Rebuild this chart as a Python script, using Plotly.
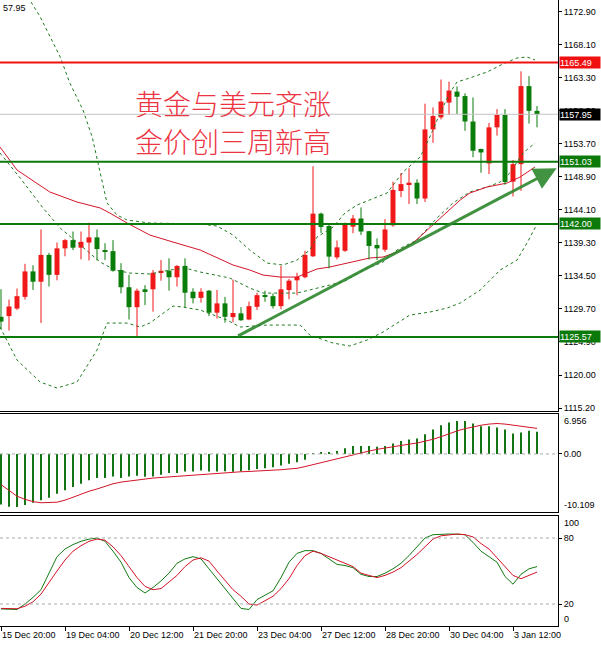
# XAUUSD H4 - gold and dollar both up
import numpy as np
import plotly.graph_objects as go
from plotly.subplots import make_subplots

# candles
opens = [1128.5, 1128.6, 1129.7, 1131.4, 1135.1, 1133.6, 1137.5, 1134.6, 1138.45, 1139.65,
         1138.55, 1139.3, 1140.05, 1138.2, 1138.05, 1135.3, 1132.8, 1129.9, 1132.5, 1132.5,
         1134.95, 1135.2, 1134.25, 1135.9, 1132.15, 1131.25, 1132.3, 1129.1, 1130.45, 1128.45,
         1129.0, 1128.1, 1129.95, 1131.65, 1131.5, 1130.05, 1132.4, 1133.8, 1134.25, 1137.3,
         1143.5, 1141.7, 1137.15, 1138.1, 1141.6, 1142.8, 1140.95, 1138.95, 1138.25, 1141.8,
         1146.8, 1147.75, 1148.0, 1145.7, 1155.75, 1157.5, 1159.65, 1161.25, 1160.6, 1156.9,
         1152.9, 1150.8, 1156.05, 1157.85, 1148.15, 1150.7, 1162.05, 1158.45]
highs = [1132.5, 1131.0, 1132.6, 1136.2, 1136.0, 1141.2, 1137.8, 1139.3, 1139.8, 1140.9,
         1140.9, 1142.2, 1141.2, 1139.2, 1139.65, 1136.3, 1134.6, 1132.6, 1133.1, 1135.3,
         1136.75, 1137.0, 1136.0, 1137.0, 1132.65, 1132.65, 1132.4, 1132.4, 1131.4, 1133.9,
         1129.9, 1130.7, 1132.0, 1132.3, 1131.9, 1135.9, 1134.0, 1134.9, 1138.1, 1150.4,
         1143.65, 1141.85, 1139.6, 1142.2, 1143.3, 1144.4, 1141.0, 1139.9, 1142.7, 1148.15,
         1149.4, 1150.1, 1148.5, 1159.5, 1158.95, 1163.0, 1162.7, 1162.0, 1161.0, 1160.4,
         1152.95, 1156.7, 1158.7, 1158.7, 1151.3, 1164.2, 1163.5, 1159.15]
lows = [1126.7, 1126.5, 1129.5, 1131.0, 1132.4, 1127.6, 1132.9, 1133.8, 1137.3, 1138.2,
        1136.85, 1136.7, 1136.7, 1136.75, 1135.05, 1131.9, 1128.1, 1125.6, 1130.2, 1129.25,
        1133.75, 1132.3, 1132.9, 1129.9, 1130.45, 1130.55, 1128.6, 1128.25, 1127.65, 1127.7,
        1127.9, 1128.0, 1129.5, 1130.7, 1129.7, 1129.6, 1131.05, 1131.65, 1134.1, 1137.2,
        1140.7, 1135.55, 1136.85, 1137.95, 1140.65, 1140.4, 1136.85, 1136.75, 1137.95, 1141.6,
        1145.9, 1144.9, 1144.9, 1145.2, 1153.8, 1157.2, 1157.85, 1158.0, 1155.55, 1151.7,
        1149.45, 1149.25, 1154.85, 1147.7, 1146.0, 1146.8, 1156.6, 1156.05]
closes = [1127.8, 1130.0, 1131.5, 1135.1, 1133.6, 1137.5, 1134.6, 1138.45, 1139.65, 1138.55,
          1139.4, 1140.05, 1138.35, 1138.05, 1135.2, 1132.8, 1129.9, 1132.3, 1132.25, 1134.9,
          1135.2, 1134.25, 1135.9, 1132.0, 1131.2, 1132.15, 1129.1, 1130.45, 1128.5, 1129.05,
          1128.0, 1130.05, 1131.65, 1131.45, 1130.05, 1132.5, 1133.75, 1134.3, 1137.5, 1143.5,
          1141.55, 1137.25, 1138.6, 1142.0, 1142.8, 1140.9, 1138.8, 1138.45, 1141.2, 1146.95,
          1147.8, 1148.0, 1145.7, 1155.75, 1157.7, 1159.8, 1161.4, 1160.5, 1156.9, 1152.65,
          1152.4, 1156.05, 1157.85, 1148.1, 1150.7, 1162.05, 1158.45, 1157.95]

x_ticklabels = ["15 Dec 20:00", "19 Dec 04:00", "20 Dec 12:00", "21 Dec 20:00", "23 Dec 04:00",
                "27 Dec 12:00", "28 Dec 20:00", "30 Dec 04:00", "3 Jan 12:00"]
price_ticks = [1172.90, 1168.10, 1163.30, 1158.50, 1153.70, 1148.90, 1144.10,
               1139.30, 1134.50, 1129.70, 1124.90, 1120.00, 1115.20]

# bollinger bands + MA, sampled along the curves (bar index, price)
bb_up_x = [2.6, 3.6, 4.9, 6.1, 7.4, 8.6, 10.25, 11.4, 12.1, 13.25, 14.5, 15.75, 18.6, 24.9, 27.0,
           29.0, 31.1, 33.25, 35.25, 37.0, 38.6, 39.5, 41.5, 43.0, 44.5, 46.1, 48.25, 50.25, 52.4,
           53.6, 54.9, 56.1, 57.0, 58.6, 60.75, 62.75, 64.5, 65.75, 66.75]
bb_up_y = [1177.48, 1174.57, 1172.1, 1169.19, 1166.28, 1162.5, 1158.57, 1154.65, 1150.86, 1145.05,
           1143.3, 1142.57, 1142.14, 1141.99, 1141.7, 1140.39, 1138.21, 1136.32, 1136.03, 1136.75,
           1138.21, 1140.1, 1141.55, 1143.59, 1144.75, 1145.48, 1146.5, 1149.55, 1151.74, 1154.65,
           1158.14, 1161.05, 1162.65, 1163.23, 1164.1, 1165.26, 1166.14, 1166.28, 1165.85]
bb_mid_x = [-0.125, 2.4, 5.25, 7.4, 9.9, 12.4, 14.25, 16.1, 18.6, 21.1, 23.0, 24.9, 26.75, 28.6,
            31.1, 32.75, 37.0, 39.25, 41.1, 43.0, 45.25, 47.75, 49.5, 52.0, 54.5, 56.5, 58.6,
            60.75, 62.4, 63.6, 65.25, 66.75]
bb_mid_y = [1152.32, 1148.68, 1144.32, 1141.41, 1138.94, 1136.46, 1135.3, 1134.86, 1134.72, 1135.3,
            1135.59, 1135.01, 1134.57, 1134.14, 1132.68, 1131.95, 1131.95, 1132.54, 1133.12, 1133.7,
            1135.3, 1136.46, 1138.21, 1139.66, 1142.86, 1145.05, 1146.65, 1147.37, 1148.1, 1149.41,
            1152.32, 1153.77]
bb_low_x = [-0.125, 2.0, 4.9, 7.0, 9.5, 12.0, 13.25, 15.75, 17.4, 18.6, 21.5, 22.75, 24.9, 28.25,
            29.9, 33.25, 37.4, 38.6, 41.5, 43.6, 45.75, 47.75, 51.1, 53.6, 55.75, 57.4, 59.9,
            62.4, 64.5, 65.75, 67.0]
bb_low_y = [1127.01, 1122.21, 1119.01, 1118.14, 1119.01, 1123.66, 1127.59, 1127.59, 1127.01, 1127.59,
            1130.06, 1129.92, 1129.48, 1128.03, 1127.01, 1127.3, 1127.3, 1125.85, 1124.68, 1124.25,
            1125.12, 1126.28, 1128.75, 1129.19, 1129.77, 1130.5, 1132.39, 1135.3, 1136.75, 1139.23,
            1141.99]
ma_x = [-0.125, 2.0, 6.1, 9.5, 12.4, 13.6, 15.75, 18.6, 21.5, 24.9, 29.0, 31.1, 32.75, 34.9, 37.0,
        39.5, 41.1, 42.75, 44.5, 46.1, 47.75, 49.5, 51.5, 53.6, 55.75, 57.4, 58.6, 60.75, 63.25,
        64.9, 66.75]
ma_y = [1153.19, 1149.85, 1146.65, 1145.19, 1144.32, 1143.59, 1142.14, 1140.39, 1139.37, 1138.21,
        1136.03, 1135.3, 1134.57, 1134.28, 1134.28, 1135.45, 1135.74, 1136.17, 1136.61, 1137.05,
        1137.19, 1137.92, 1139.23, 1141.41, 1143.74, 1145.48, 1146.5, 1147.37, 1147.95, 1148.83,
        1150.28]

# MACD
macd_hist = [-8.79, -9.2, -9.25, -8.91, -8.5, -8.05, -7.64, -6.95, -6.32, -5.75,
             -5.17, -4.6, -4.2, -4.2, -3.91, -4.2, -3.91, -3.79, -3.95, -3.91,
             -3.62, -3.33, -3.33, -3.05, -3.05, -2.87, -3.05, -3.05, -3.0, -3.1,
             -3.0, -2.85, -2.6, -2.5, -2.3, -2.0, -1.7, -1.45, -1.0, 0.1,
             0.29, 0.29, 0.52, 0.98, 1.38, 1.38, 1.38, 1.26, 1.38, 1.84,
             2.24, 2.53, 2.7, 3.45, 4.25, 5.0, 5.46, 5.75, 5.75, 5.29,
             4.83, 4.83, 4.6, 4.25, 3.56, 3.74, 4.02, 3.85]
macd_signal = [-5.34, -6.4, -7.36, -7.9, -8.3, -8.5, -8.5, -8.4, -8.05, -7.5,
               -7.0, -6.5, -6.1, -5.6, -5.2, -4.9, -4.7, -4.5, -4.3, -4.2,
               -4.1, -4.0, -3.9, -3.8, -3.7, -3.5, -3.4, -3.3, -3.25, -3.2,
               -3.1, -3.05, -3.0, -2.95, -2.87, -2.75, -2.62, -2.5, -2.2, -1.85,
               -1.5, -1.15, -0.8, -0.45, -0.1, 0.2, 0.5, 0.8, 1.05, 1.3,
               1.5, 1.7, 1.9, 2.2, 2.55, 3.0, 3.55, 4.0, 4.4, 4.75,
               5.0, 5.2, 5.3, 5.2, 5.0, 4.8, 4.6, 4.45]
macd_scale = [6.956, -10.109]

# Stochastic
stoch_k = [15.5, 15, 15, 20, 26, 33, 48, 63, 70, 74,
           77, 79, 80, 77, 68, 58, 44, 35, 30, 35,
           41, 48, 57, 61, 63, 61, 52, 43, 35, 26,
           16, 15, 24, 28, 32, 44, 58, 66, 68.5, 68.5,
           66, 61, 56, 55, 53, 47, 45, 45, 48, 52,
           57, 64, 72, 80, 83, 83.5, 83.6, 83.5, 83, 76,
           68, 63, 58, 45, 38, 47, 52, 54]
stoch_d = [16, 15.7, 15.7, 18, 22, 29, 40, 50, 60, 68,
           73, 77, 79, 78, 72, 64, 54, 44, 36, 33,
           34, 40, 46, 54, 60, 62, 59, 50, 41, 33,
           27, 20, 19, 23, 27, 34, 43, 55, 64, 68,
           66, 63, 60, 57, 54, 48, 46, 44, 46, 49,
           53, 59, 65, 72, 79, 82, 83, 83.6, 83, 81,
           75, 70, 62, 54, 46, 43, 46, 49]
stoch_levels = [80, 20]

# drawn objects
levels = [1165.49, 1151.03, 1142.00, 1125.57]
level_colors = ['#f01010', '#0b7a0b', '#0b7a0b', '#0b7a0b']
last_price = 1157.95
trend_x = [29.45, 69.45]
trend_y = [1125.6, 1150.1]

RED = '#f01818'
GREEN = '#0a7d0a'
FONT = 'Liberation Sans'

x = np.arange(len(closes))
o = np.array(opens); c = np.array(closes); h = np.array(highs); l = np.array(lows)
up = c >= o

fig = make_subplots(rows=3, cols=1, shared_xaxes=True, vertical_spacing=0.005)

band_line = dict(color='#1f7a1f', width=1, dash='3px,3px')
for bx, by in [(bb_up_x, bb_up_y), (bb_mid_x, bb_mid_y), (bb_low_x, bb_low_y)]:
    fig.add_trace(go.Scatter(x=bx, y=by, mode='lines', line=band_line, hoverinfo='skip'), row=1, col=1)
fig.add_trace(go.Scatter(x=ma_x, y=ma_y, mode='lines', line=dict(color='#d4142a', width=1)), row=1, col=1)

# wicks
for mask, col in [(up, RED), (~up, GREEN)]:
    wx, wy = [], []
    for i in x[mask]:
        wx += [i, i, None]
        wy += [l[i], h[i], None]
    fig.add_trace(go.Scatter(x=wx, y=wy, mode='lines', line=dict(color=col, width=1)), row=1, col=1)

# bodies
body = np.maximum(np.abs(c - o), 0.12)
fig.add_trace(go.Bar(x=x, y=body, base=np.minimum(o, c), width=0.62,
                     marker=dict(color=[RED if u else GREEN for u in up], line=dict(width=0))),
              row=1, col=1)

# MACD
fig.add_trace(go.Bar(x=x, y=macd_hist, width=0.18, marker=dict(color='#127512', line=dict(width=0))),
              row=2, col=1)
fig.add_trace(go.Scatter(x=x, y=macd_signal, mode='lines', line=dict(color='#d4142a', width=1)),
              row=2, col=1)

# Stochastic
fig.add_trace(go.Scatter(x=x, y=stoch_k, mode='lines', line=dict(color='#137a13', width=1)), row=3, col=1)
fig.add_trace(go.Scatter(x=x, y=stoch_d, mode='lines', line=dict(color='#d4142a', width=1)), row=3, col=1)

# horizontal lines
fig.add_hline(y=last_price, line=dict(color='#c4c4c4', width=1), row=1, col=1)
for v, col in zip(levels, level_colors):
    fig.add_hline(y=v, line=dict(color=col, width=2), row=1, col=1)
fig.add_hline(y=0, line=dict(color='#aaaaaa', width=1, dash='3px,3px'), row=2, col=1)
for v in stoch_levels:
    fig.add_hline(y=v, line=dict(color='#aaaaaa', width=1, dash='3px,3px'), row=3, col=1)

# trend arrow
fig.add_annotation(x=trend_x[1], y=trend_y[1], ax=trend_x[0], ay=trend_y[0],
                   xref='x', yref='y', axref='x', ayref='y', text='', showarrow=True,
                   arrowhead=2, arrowsize=1.5, arrowwidth=3, arrowcolor='rgba(45,135,45,0.9)',
                   standoff=0)

# price boxes on the right axis
box_bg = {last_price: '#000000'}
for v, col in zip(levels, level_colors):
    box_bg[v] = col
for v, bg in box_bg.items():
    fig.add_annotation(x=1, y=v, xref='paper', yref='y', xanchor='left', yanchor='middle',
                       xshift=1, text=f'{v:.2f}', showarrow=False, bgcolor=bg,
                       font=dict(family=FONT, size=9, color='white'),
                       width=40, height=11, align='left', borderpad=0)

# sub-window scale labels
small = dict(family=FONT, size=9, color='black')
fig.add_annotation(x=1, y=macd_scale[0], xref='paper', yref='y2', xanchor='left', yanchor='top',
                   xshift=4, text=f'{macd_scale[0]:.3f}', showarrow=False, font=small)
fig.add_annotation(x=1, y=macd_scale[1], xref='paper', yref='y2', xanchor='left', yanchor='bottom',
                   xshift=4, text=f'{macd_scale[1]:.3f}', showarrow=False, font=small)
fig.add_annotation(x=1, y=100, xref='paper', yref='y3', xanchor='left', yanchor='top',
                   xshift=4, text='100', showarrow=False, font=small)
fig.add_annotation(x=1, y=0, xref='paper', yref='y3', xanchor='left', yanchor='bottom',
                   xshift=4, text='0', showarrow=False, font=small)
fig.add_annotation(x=0, y=1, xref='paper', yref='paper', xanchor='left', yanchor='top',
                   xshift=1, yshift=-1, text='57.95', showarrow=False, font=small)

# headline
title_font = dict(family='Noto Sans CJK SC', size=28, color='#ec3443', weight=300)
fig.add_annotation(x=133 / 558, y=1 - 103 / 626, xref='paper', yref='paper', xanchor='left',
                   yanchor='middle', text='黄金与美元齐涨', showarrow=False, font=title_font)
fig.add_annotation(x=133 / 558, y=1 - 141 / 626, xref='paper', yref='paper', xanchor='left',
                   yanchor='middle', text='金价创三周新高', showarrow=False, font=title_font)

xcommon = dict(range=[-0.125, 69.625], showgrid=False, zeroline=False, showline=True,
               linecolor='black', linewidth=1)
ycommon = dict(side='right', showgrid=False, zeroline=False, showline=True, linecolor='black',
               linewidth=1, ticks='outside', ticklen=3, tickcolor='black',
               tickfont=dict(family=FONT, size=9, color='black'))

fig.update_layout(
    width=601, height=645,
    margin=dict(l=0, r=43, t=0, b=19),
    paper_bgcolor='white', plot_bgcolor='white',
    showlegend=False, barmode='overlay',
    xaxis=dict(xcommon, showticklabels=False, ticks=''),
    xaxis2=dict(xcommon, mirror=True, showticklabels=False, ticks=''),
    xaxis3=dict(xcommon, mirror=True, tickvals=list(range(0, 8 * len(x_ticklabels), 8)),
                ticktext=x_ticklabels, ticks='outside', ticklen=4, tickcolor='black',
                ticklabelposition='outside right',
                tickfont=dict(family=FONT, size=9, color='black')),
    yaxis=dict(ycommon, domain=[1 - 411 / 626, 1], range=[1114.8, 1174.57],
               tickvals=price_ticks, ticktext=[f'{v:.2f}' for v in price_ticks]),
    yaxis2=dict(ycommon, domain=[1 - 512 / 626, 1 - 414 / 626],
                range=[macd_scale[1], macd_scale[0]], tickvals=[0], ticktext=['0.00']),
    yaxis3=dict(ycommon, domain=[0, 1 - 516 / 626], range=[0, 100], tickvals=stoch_levels,
                ticktext=[str(v) for v in stoch_levels]),
)

# page body has a default margin; drop it so the figure sits at the window corner
fig.write_html('out.html', config={'displayModeBar': False},
               post_script="document.body.style.margin='0';")
